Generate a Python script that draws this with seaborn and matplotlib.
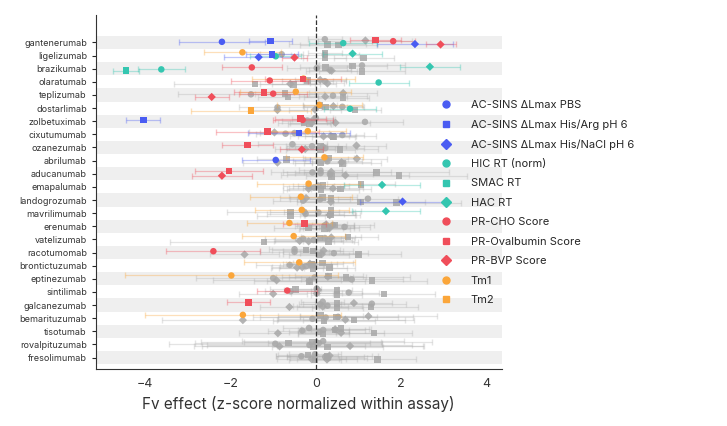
import numpy as np
import pandas as pd
import matplotlib
matplotlib.use("Agg")
import matplotlib.pyplot as plt
import seaborn as sns
from matplotlib.lines import Line2D

assays = ['AC-SINS ΔLmax PBS', 'AC-SINS ΔLmax His/Arg pH 6', 'AC-SINS ΔLmax His/NaCl pH 6',
          'HIC RT (norm)', 'SMAC RT', 'HAC RT', 'PR-CHO Score', 'PR-Ovalbumin Score',
          'PR-BVP Score', 'Tm1', 'Tm2']
assay_colors = ['#4a5cf2', '#4a5cf2', '#4a5cf2', '#34c6b0', '#34c6b0', '#34c6b0',
                '#f04e5a', '#f04e5a', '#f04e5a', '#fba63a', '#fba63a']
assay_markers = ['o', 's', 'D', 'o', 's', 'D', 'o', 's', 'D', 'o', 's']
assay_offsets = [-0.05, -0.1, 0.12, 0.05, 0.15, -0.15, -0.1, -0.2, 0.15, -0.25, 0.2]

antibodies = ['gantenerumab', 'ligelizumab', 'brazikumab', 'olaratumab', 'teplizumab',
              'dostarlimab', 'zolbetuximab', 'cixutumumab', 'ozanezumab', 'abrilumab',
              'aducanumab', 'emapalumab', 'landogrozumab', 'mavrilimumab', 'erenumab',
              'vatelizumab', 'racotumomab', 'brontictuzumab', 'eptinezumab', 'sintilimab',
              'galcanezumab', 'bemarituzumab', 'tisotumab', 'rovalpituzumab', 'fresolimumab']

effects = {
    'gantenerumab':   [-2.2, -1.06, 2.32, 0.64, 0.27, 1.16, 1.81, 1.4, 2.92, 0.21, 0.53],
    'ligelizumab':    [0.21, -1.03, -1.34, -0.94, 0.21, 0.86, -0.8, 0.21, -0.5, -1.72, 1.12],
    'brazikumab':     [0.02, 0.23, 0.33, -3.62, -4.45, 2.67, -1.5, 0.86, 0.37, 1.08, 1.08],
    'olaratumab':     [0.21, -0.2, 0.27, 1.47, -1.42, 0.1, -1.08, -0.3, -0.6, -0.29, -0.53],
    'teplizumab':     [-1.52, -0.72, 0.22, 0.4, -0.65, 0.64, -1.0, -1.21, -2.44, -0.47, 0.64],
    'dostarlimab':    [-0.9, 0.23, -0.02, 0.8, 0.92, 0.41, 0.62, 0.1, -0.9, 0.08, -1.52],
    'zolbetuximab':   [-0.2, -4.04, 0.46, 1.15, -0.28, -0.05, -0.31, -0.36, -0.1, 0.0, -0.15],
    'cixutumumab':    [-0.71, -0.4, 0.35, 0.62, 0.4, -0.97, -0.5, -1.13, 0.18, -0.19, 0.41],
    'ozanezumab':     [0.16, 0.11, -0.25, 0.22, 0.56, 0.95, -0.09, -1.6, -0.33, -0.55, 0.11],
    'abrilumab':      [-0.94, -0.69, 0.6, 0.27, 0.11, 0.96, 0.25, 0.29, -0.9, 0.2, 0.62],
    'aducanumab':     [0.11, 1.42, 0.69, 0.33, 1.95, 0.36, -0.08, -2.04, -2.2, 0.11, 0.36],
    'emapalumab':     [-0.17, 0.17, 0.4, -0.04, 0.58, 1.55, 0.06, 1.06, -0.17, -0.17, 0.12],
    'landogrozumab':  [0.1, 0.35, 2.03, -0.3, 1.05, -0.23, 1.22, 0.16, 0.35, -0.35, 1.89],
    'mavrilimumab':   [0.06, -0.59, 0.33, -0.24, 0.34, 1.64, -0.27, 0.35, 0.32, -0.33, -0.59],
    'erenumab':       [0.2, 0.45, 0.29, 0.67, -0.17, 0.24, 0.4, -0.27, 0.32, -0.62, 0.2],
    'vatelizumab':    [-0.3, 0.1, -0.38, -0.05, 0.29, 0.36, 0.21, 0.75, -0.17, -0.52, -1.21],
    'racotumomab':    [-0.5, -0.06, 0.14, 0.42, 1.0, 0.18, -2.4, -0.23, -1.67, -0.5, 0.07],
    'brontictuzumab': [-0.61, -0.1, -0.32, -0.24, 0.32, -0.14, -0.07, 0.16, -0.44, -0.39, -0.07],
    'eptinezumab':    [-1.0, 0.7, -0.92, 0.84, 1.31, 0.28, -0.03, 0.3, -0.15, -1.98, -0.15],
    'sintilimab':     [-0.59, 0.49, 0.02, 0.77, 1.6, 0.05, -0.67, -0.48, -1.0, 0.02, 0.49],
    'galcanezumab':   [0.1, 0.5, 0.16, 0.27, 1.29, 0.89, 1.31, -1.58, -0.62, 0.16, 0.5],
    'bemarituzumab':  [0.23, 0.48, 0.69, -0.08, 0.89, 1.23, 0.52, 0.11, -1.71, -1.71, 0.19],
    'tisotumab':      [-0.32, 0.45, 0.59, 0.08, 1.36, 0.45, 0.17, 0.59, -0.89, -0.16, 0.17],
    'rovalpituzumab': [-0.95, -0.64, 0.8, -0.15, -0.07, 0.02, 0.07, -0.08, -0.85, 0.17, 0.27],
    'fresolimumab':   [0.22, 0.26, -0.1, 0.29, 1.44, 0.32, -0.34, -0.18, 0.26, -0.02, -0.02],
}

errors = {
    'gantenerumab':   [1.0, 0.5, 0.9, 0.8, 0.9, 1.1, 0.5, 0.6, 0.35, 0.4, 0.9],
    'ligelizumab':    [0.8, 0.6, 0.8, 0.6, 0.5, 0.7, 0.5, 0.4, 0.3, 0.9, 0.7],
    'brazikumab':     [0.7, 0.6, 0.5, 0.55, 0.3, 0.7, 0.7, 0.8, 0.6, 1.0, 1.0],
    'olaratumab':     [0.5, 0.6, 0.4, 0.7, 1.9, 0.6, 0.9, 0.9, 0.7, 1.2, 0.5],
    'teplizumab':     [1.7, 0.7, 0.5, 0.8, 0.7, 0.8, 0.8, 0.7, 0.4, 1.3, 0.6],
    'dostarlimab':    [0.9, 0.5, 0.6, 0.6, 0.6, 0.7, 0.5, 0.4, 0.7, 1.0, 1.4],
    'zolbetuximab':   [0.6, 0.4, 0.8, 0.9, 0.6, 0.5, 0.7, 0.6, 0.5, 0.4, 0.5],
    'cixutumumab':    [0.7, 1.2, 0.6, 0.5, 1.0, 0.6, 0.8, 1.2, 0.6, 0.9, 0.5],
    'ozanezumab':     [0.8, 0.6, 0.7, 0.9, 0.9, 0.7, 0.6, 0.6, 0.5, 0.8, 0.8],
    'abrilumab':      [0.8, 0.7, 0.7, 0.8, 0.6, 0.7, 0.5, 0.6, 0.8, 0.9, 0.9],
    'aducanumab':     [0.6, 1.7, 1.5, 1.0, 1.6, 1.4, 0.7, 0.8, 0.7, 0.5, 0.6],
    'emapalumab':     [0.6, 0.6, 0.7, 0.6, 0.7, 0.9, 0.6, 0.8, 0.5, 1.2, 0.9],
    'landogrozumab':  [0.7, 0.8, 1.0, 0.7, 1.5, 0.6, 0.7, 0.8, 0.7, 1.2, 1.5],
    'mavrilimumab':   [0.8, 1.5, 0.7, 0.9, 0.6, 0.8, 0.8, 0.7, 0.6, 1.1, 0.8],
    'erenumab':       [0.7, 0.9, 0.6, 0.6, 0.8, 0.5, 0.5, 0.5, 0.7, 1.0, 0.6],
    'vatelizumab':    [0.9, 0.6, 0.8, 0.9, 0.6, 0.7, 0.7, 0.7, 0.8, 1.2, 2.2],
    'racotumomab':    [0.8, 0.7, 0.9, 0.8, 1.0, 0.7, 1.1, 0.8, 0.8, 0.6, 0.7],
    'brontictuzumab': [0.8, 0.6, 0.7, 0.6, 0.6, 0.5, 0.7, 0.7, 0.6, 1.3, 0.8],
    'eptinezumab':    [1.8, 1.5, 1.5, 1.2, 1.3, 0.9, 0.9, 0.8, 1.3, 2.5, 1.0],
    'sintilimab':     [0.6, 0.6, 0.6, 0.7, 1.2, 0.8, 0.7, 0.6, 0.8, 0.5, 0.6],
    'galcanezumab':   [0.5, 0.8, 0.6, 0.8, 1.1, 0.9, 0.8, 0.5, 0.7, 0.5, 0.6],
    'bemarituzumab':  [1.7, 1.8, 1.6, 0.8, 1.2, 1.6, 0.9, 1.0, 1.9, 2.3, 1.2],
    'tisotumab':      [0.8, 0.7, 1.0, 0.7, 0.9, 0.8, 0.6, 0.7, 0.9, 0.6, 0.6],
    'rovalpituzumab': [2.5, 2.2, 1.7, 2.4, 2.6, 2.7, 1.2, 1.6, 2.0, 1.9, 1.3],
    'fresolimumab':   [0.9, 1.2, 0.8, 0.9, 0.9, 1.0, 0.6, 0.7, 0.7, 0.6, 0.6],
}

highlighted = {
    'gantenerumab': [0, 1, 2, 3, 6, 7, 8], 'ligelizumab': [1, 2, 3, 5, 8, 9],
    'brazikumab': [3, 4, 5, 6], 'olaratumab': [3, 6, 7, 9], 'teplizumab': [6, 7, 8, 9],
    'dostarlimab': [3, 9, 10], 'zolbetuximab': [1, 6, 7], 'cixutumumab': [1, 7, 9],
    'ozanezumab': [7, 8], 'abrilumab': [0, 9], 'aducanumab': [7, 8], 'emapalumab': [5, 9],
    'landogrozumab': [2, 9], 'mavrilimumab': [5, 9], 'erenumab': [7, 9],
    'vatelizumab': [9], 'racotumomab': [6], 'brontictuzumab': [9], 'eptinezumab': [9],
    'sintilimab': [6], 'galcanezumab': [7], 'bemarituzumab': [9], 'tisotumab': [],
    'rovalpituzumab': [], 'fresolimumab': [],
}

rows = []
for i, ab in enumerate(antibodies):
    for j, a in enumerate(assays):
        hl = j in highlighted[ab]
        rows.append(dict(antibody=ab, assay=a, effect=effects[ab][j], err=errors[ab][j],
                         y=i + assay_offsets[j], hl=hl,
                         color=assay_colors[j] if hl else '#a8a8a8',
                         marker=assay_markers[j]))
df = pd.DataFrame(rows)

sns.set_style("white")
plt.rcParams['font.family'] = ['Inter', 'DejaVu Sans']

fig = plt.figure(figsize=(7.27, 4.26), dpi=100)
ax = fig.add_axes([0.132, 0.133, 0.558, 0.832])

for i in range(len(antibodies)):
    if i % 2 == 0:
        ax.axhspan(i - 0.5, i + 0.5, color='#efefef', zorder=0, lw=0)

# grey first, highlighted on top
for hl in [False, True]:
    sub = df[df.hl == hl]
    for _, r in sub.iterrows():
        ax.errorbar(r.effect, r.y, xerr=r.err, fmt='none', ecolor=r.color,
                    alpha=0.35 if hl else 0.3, elinewidth=0.9, capsize=2, zorder=2)
    for m in ['o', 's', 'D']:
        s = sub[sub.marker == m]
        sns.scatterplot(data=s, x='effect', y='y', marker=m, c=s['color'].tolist(),
                        s=22 if m != 'D' else 18, edgecolor='none',
                        alpha=1.0 if hl else 0.85, ax=ax, zorder=3 if hl else 2,
                        legend=False)

ax.axvline(0, color='#333333', ls='--', lw=0.9, zorder=4)
ax.set_ylim(len(antibodies) - 0.1, -2.1)
ax.set_xlim(-5.15, 4.35)
ax.set_yticks(range(len(antibodies)))
ax.set_yticklabels(antibodies, fontsize=6.5, color='#333333')
ax.set_xticks([-4, -2, 0, 2, 4])
ax.tick_params(axis='x', labelsize=9, length=3, colors='#333333')
ax.tick_params(axis='y', length=3, left=True)
ax.set_xlabel('Fv effect (z-score normalized within assay)', fontsize=11, color='#333333')
ax.set_ylabel('')
for sp in ['top', 'right']:
    ax.spines[sp].set_visible(False)
for sp in ['left', 'bottom']:
    ax.spines[sp].set_color('#333333')

handles = [Line2D([], [], marker=m, color=c, ls='none', markersize=5)
           for m, c in zip(assay_markers, assay_colors)]
fig.legend(handles, assays, loc='center left', bbox_to_anchor=(0.585, 0.525),
           frameon=False, fontsize=8, labelspacing=0.85, handletextpad=1.2)

fig.savefig('out.png', dpi=100)
